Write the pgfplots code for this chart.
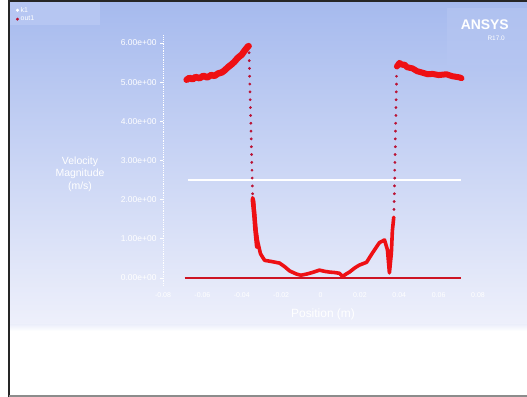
\documentclass[border=0pt]{standalone}
\usepackage{pgfplots}
\pgfplotsset{compat=1.18}
\usepackage{fontspec}
\setmainfont{Liberation Sans}

\definecolor{bgtop}{RGB}{166,186,238}
\definecolor{bgbot}{RGB}{238,240,251}
\definecolor{panel}{RGB}{182,198,242}
\definecolor{curve}{RGB}{238,16,20}
\definecolor{dots}{RGB}{186,18,52}
\definecolor{wall}{RGB}{205,20,35}

\begin{document}
\begin{tikzpicture}
\useasboundingbox (0bp,0bp) rectangle (527bp,397bp);
\fill[white] (0bp,0bp) rectangle (527bp,397bp);
% graphics window background
\shade[top color=bgtop, bottom color=bgbot] (10bp,72bp) rectangle (527bp,395bp);
\shade[top color=bgbot, bottom color=white] (10bp,66bp) rectangle (527bp,72bp);
% legend and logo panels
\fill[panel] (10bp,372bp) rectangle (100bp,395bp);
\fill[panel, opacity=0.6] (447bp,332bp) rectangle (527bp,389bp);
\node[anchor=north east, inner sep=0pt, text=white, font=\fontsize{14}{15}\selectfont\bfseries] at (509bp,377bp) {ANSYS};
\node[anchor=north east, inner sep=0pt, text=white, font=\fontsize{6.5}{7}\selectfont] at (505bp,361bp) {R17.0};

\begin{axis}[
  scale only axis,
  width=315bp, height=250.7bp,
  anchor=south west, at={(163bp,111.2bp)},
  xmin=-0.08, xmax=0.08, ymin=-0.2, ymax=6.2,
  scaled x ticks=false, scaled y ticks=false,
  axis x line*=bottom, axis y line*=left,
  x axis line style={draw=none,-},
  y axis line style={-, white, densely dotted, line width=0.8bp},
  xtick={-0.08,-0.06,-0.04,-0.02,0,0.02,0.04,0.06,0.08},
  xticklabels={-0.08,-0.06,-0.04,-0.02,0,0.02,0.04,0.06,0.08},
  ytick={0,1,2,3,4,5,6},
  yticklabels={0.00e+00,1.00e+00,2.00e+00,3.00e+00,4.00e+00,5.00e+00,6.00e+00},
  tick style={white, line width=0.6bp},
  xtick style={draw=none},
  tick align=outside, major tick length=3bp,
  ticklabel style={text=white, font=\fontsize{7}{8}\selectfont},
  yticklabel style={font=\fontsize{8.5}{9}\selectfont},
  xlabel={Position (m)},
  every axis x label/.style={at={(axis description cs:0.508,-0.1125)}, anchor=center,
    text=white, font=\fontsize{12}{13}\selectfont},
  ylabel={Velocity\\Magnitude\\(m/s)},
  every axis y label/.style={at={(axis description cs:-0.2635,0.446)}, anchor=center,
    align=center, text=white, font=\fontsize{10.5}{12.5}\selectfont},
  legend style={at={(axis description cs:-0.47,1.125)}, anchor=north west,
    fill=none, draw=none, font=\fontsize{7}{7.5}\selectfont, text=white,
    inner sep=1bp, row sep=-1.5bp},
  legend cell align=left,
  clip=false,
]
\addlegendimage{only marks, mark=*, mark size=1.3bp, white}
\addlegendimage{only marks, mark=*, mark size=1.3bp, dots}
\legend{k1,out1}

% points on the wall (zero velocity)
\addplot[wall, line width=2.6bp] coordinates {(-0.0690,0) (0.0716,0)};

% left core region
\addplot[curve, line width=6.5bp, line join=round, line cap=round] coordinates {
(-0.0680,5.06) (-0.0665,5.11) (-0.0650,5.07) (-0.0635,5.13) (-0.0614,5.10)
(-0.0595,5.16) (-0.0575,5.12) (-0.0555,5.18) (-0.0538,5.16) (-0.0520,5.22)
(-0.0500,5.25) (-0.0487,5.30) (-0.0470,5.38) (-0.0450,5.46) (-0.0437,5.52)
(-0.0420,5.62) (-0.0400,5.70) (-0.0386,5.80) (-0.0370,5.90) (-0.0365,5.92)};

% steep fall (sparse cells)
\addplot[only marks, mark=*, mark size=1.2bp, dots] coordinates {
(-0.0363,5.75) (-0.0362,5.55) (-0.0361,5.35) (-0.0360,5.15) (-0.0359,4.95)
(-0.0358,4.75) (-0.0357,4.55) (-0.0356,4.35) (-0.0355,4.15) (-0.0354,3.95)
(-0.0353,3.75) (-0.0352,3.55) (-0.0351,3.35) (-0.0350,3.15) (-0.0349,2.95)
(-0.0348,2.75) (-0.0347,2.55) (-0.0346,2.35) (-0.0345,2.15)};

% low-velocity region
\addplot[curve, line width=3.6bp, line join=round, line cap=round] coordinates {
(-0.0345,2.05) (-0.0340,1.95) (-0.0335,1.60) (-0.0330,1.30) (-0.0320,0.95)
(-0.0305,0.62) (-0.0284,0.45) (-0.0249,0.42) (-0.0208,0.38) (-0.0180,0.28)
(-0.0157,0.18) (-0.0122,0.10) (-0.0100,0.07) (-0.0070,0.10) (-0.0041,0.14)
(-0.0005,0.20) (0.0020,0.17) (0.0046,0.15) (0.0070,0.14) (0.0096,0.12)
(0.0112,0.04) (0.0130,0.10) (0.0147,0.15) (0.0175,0.26) (0.0198,0.33)
(0.0234,0.40) (0.0264,0.64) (0.0299,0.90) (0.0325,0.97) (0.0340,0.72)
(0.0350,0.13) (0.0360,0.64) (0.0365,1.20) (0.0372,1.55)};
% denser cells just inside the fall
\addplot[curve, line width=4.5bp, line join=round, line cap=round] coordinates {
(-0.0344,2.0) (-0.0336,1.6) (-0.0330,1.2) (-0.0322,0.8)};

% steep rise (sparse cells)
\addplot[only marks, mark=*, mark size=1.2bp, dots] coordinates {
(0.0373,1.75) (0.0374,1.95) (0.0375,2.15) (0.0376,2.35) (0.0377,2.55)
(0.0377,2.75) (0.0378,2.95) (0.0379,3.15) (0.0380,3.35) (0.0380,3.55)
(0.0381,3.75) (0.0382,3.95) (0.0383,4.15) (0.0383,4.35) (0.0384,4.55)
(0.0385,4.75) (0.0386,4.95) (0.0386,5.15)};

% right core region
\addplot[curve, line width=6bp, line join=round, line cap=round] coordinates {
(0.0388,5.40) (0.0401,5.49) (0.0415,5.44) (0.0426,5.45) (0.0440,5.38)
(0.0467,5.35) (0.0490,5.28) (0.0518,5.24) (0.0545,5.20) (0.0569,5.21)
(0.0600,5.18) (0.0640,5.20) (0.0670,5.15) (0.0706,5.12) (0.0716,5.10)};

% k1 line
\addplot[white, line width=2.6bp] coordinates {(-0.0675,2.5) (0.0716,2.5)};
\end{axis}

% window frame
\draw[black!85, line width=2.5bp] (9bp,0bp) -- (9bp,397bp);
\draw[black!85, line width=2bp] (9bp,396bp) -- (527bp,396bp);
\draw[black!45, line width=1.5bp] (9bp,1bp) -- (527bp,1bp);
\end{tikzpicture}
\end{document}
